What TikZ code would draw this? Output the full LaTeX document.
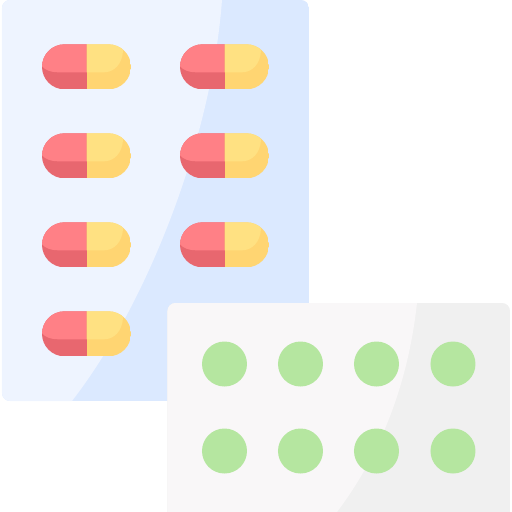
\documentclass[tikz,border=0pt]{standalone}
\definecolor{backlight}{HTML}{EEF4FF}
\definecolor{backdark}{HTML}{DBE9FF}
\definecolor{cardlight}{HTML}{F9F7F8}
\definecolor{carddark}{HTML}{F0F0F0}
\definecolor{redlight}{HTML}{FF8086}
\definecolor{reddark}{HTML}{E8676F}
\definecolor{yellowlight}{HTML}{FFE182}
\definecolor{yellowdark}{HTML}{FFD572}
\definecolor{tablet}{HTML}{B5E6A0}
\begin{document}
\begin{tikzpicture}
  [x=.02cm,y=-.02cm,
   dot/.style={fill=tablet},
   pill/.pic={
     \begin{scope}
       \clip (0,22.5) arc[start angle=180,end angle=270,radius=22.5] -- (66.5,0)
         arc[start angle=-90,end angle=90,radius=22.5] -- (22.5,45)
         arc[start angle=90,end angle=180,radius=22.5] -- cycle;
       \fill[reddark] (0,0) rectangle (44.7,45);
       \fill[yellowdark] (44.7,0) rectangle (89.5,45);
       \fill[redlight] (-1,-1) -- (-1,21) .. controls (3,26) and (9,28) .. (16,28) -- (44.7,28) -- (44.7,-1) -- cycle;
       \fill[yellowlight] (44.7,-1) -- (44.7,28) -- (62,28) .. controls (72,28) and (80,20) .. (81,7) -- (81,-1) -- cycle;
     \end{scope}
   }]
  \useasboundingbox (0,0) rectangle (512,512);
  % back sheet
  \begin{scope}
    \clip[rounded corners=4.5] (2,0) rectangle (309,401);
    \fill[backdark] (2,0) rectangle (309,401);
    \fill[backlight] (2,0) -- (222,0) .. controls (212,135) and (150,300) .. (72,401) -- (2,401) -- cycle;
  \end{scope}
  \foreach \x in {42,180}
    \foreach \y in {44.3,133.3,222.3}
      \pic at (\x,\y) {pill};
  \pic at (42,311.3) {pill};
  % front sheet
  \begin{scope}
    \clip[rounded corners=4.5] (167.5,303) rectangle (510,522);
    \fill[carddark] (167,303) rectangle (510,512);
    \fill[cardlight] (167,303) -- (417,303) .. controls (408,385) and (380,455) .. (337,512) -- (167,512) -- cycle;
  \end{scope}
  \foreach \x in {224.5,300.5,376.5,453}
    \foreach \y in {364,451}
      \fill[dot] (\x,\y) circle[radius=22.5];
\end{tikzpicture}
\end{document}
